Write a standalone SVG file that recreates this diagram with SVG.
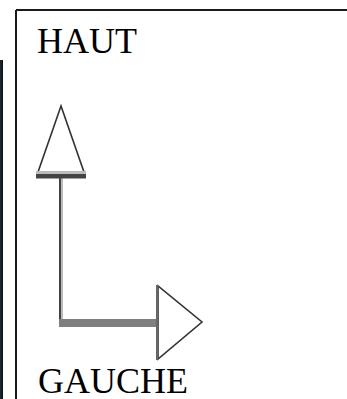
<svg xmlns="http://www.w3.org/2000/svg" width="347" height="399" viewBox="0 0 347 399">
  <defs>
    <linearGradient id="strip" x1="0" y1="0" x2="1" y2="0">
      <stop offset="0" stop-color="#1c2a3c"/>
      <stop offset="1" stop-color="#0a0f18"/>
    </linearGradient>
    <style>
      .lbl { font-family: "Liberation Serif", "Times New Roman", serif; font-size: 36px; fill: #000; }
      .head { fill: #fff; stroke: #333; stroke-width: 1.6; stroke-linejoin: miter; }
    </style>
  </defs>
  <rect x="0" y="0" width="347" height="399" fill="#fff"/>
  <rect x="0" y="60" width="3" height="339" fill="url(#strip)"/>
  <g id="frame">
    <line x1="16" y1="10" x2="347" y2="10" stroke="#1a1a1a" stroke-width="2"/>
    <line x1="16" y1="10" x2="16" y2="399" stroke="#1a1a1a" stroke-width="2"/>
  </g>
  <g id="connectors">
    <rect x="59" y="178" width="2" height="146" fill="#444"/>
    <rect x="61" y="178" width="2" height="149" fill="#bbb"/>
    <rect x="59" y="319" width="98" height="8" fill="#7f7f7f"/>
  </g>
  <g id="arrow-up">
    <polygon class="head" points="61,106 37,175 85,175"/>
    <rect x="36" y="171" width="50" height="3" fill="#bbb"/>
    <rect x="36" y="174" width="50" height="4.5" fill="#444"/>
  </g>
  <g id="arrow-right">
    <polygon class="head" points="158,286 158,359 202,322"/>
    <rect x="156" y="285" width="2.5" height="75" fill="#666"/>
  </g>
  <g id="haut">
    <text class="lbl" x="37" y="53">HAUT</text>
  </g>
  <g id="gauche">
    <text class="lbl" x="38" y="393">GAUCHE</text>
  </g>
</svg>
